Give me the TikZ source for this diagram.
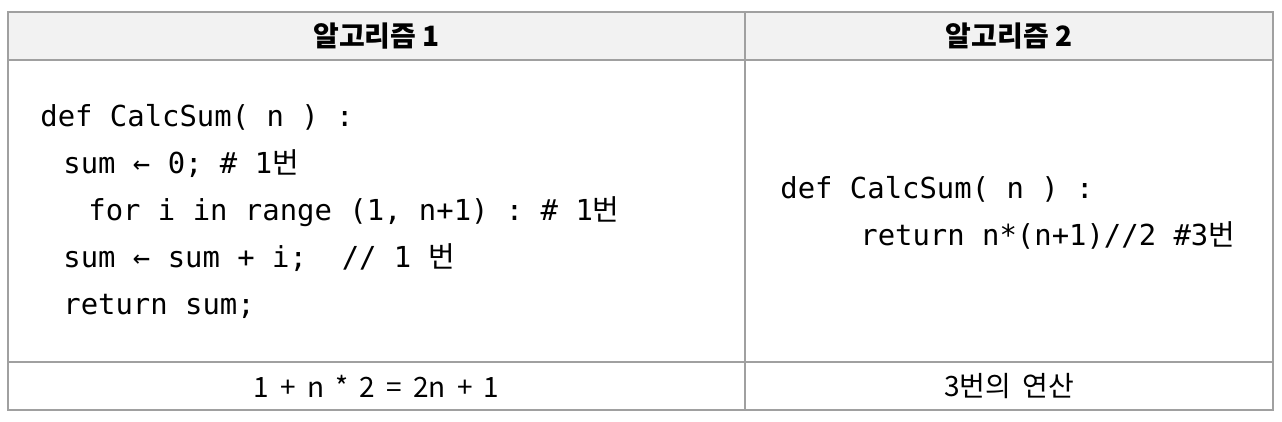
\documentclass[tikz,border=0pt]{standalone}
\usepackage{fontspec}
\setmainfont{Noto Sans CJK KR}
\setmonofont{DejaVu Sans Mono}
\newfontfamily\krfont{Noto Sans CJK KR}
\newcommand{\kr}[1]{{\krfont #1}}
\newcommand{\footfont}{\fontsize{14}{17}\selectfont\spaceskip=0.4em\relax}
\definecolor{gridgray}{HTML}{A0A0A0}
\definecolor{headfill}{HTML}{F2F2F2}

\begin{document}
\begin{tikzpicture}[x=0.5pt, y=-0.5pt,
    cell/.style={draw=gridgray, line width=1pt},
    head/.style={font=\bfseries\fontsize{14}{17}\selectfont, anchor=center},
    foot/.style={font=\footfont, anchor=center},
    code/.style={font=\ttfamily\fontsize{14.45}{17}\selectfont, anchor=base west, inner sep=0pt}]

    \useasboundingbox (0,0) rectangle (1282,422);

    % table
    \fill[headfill] (8,12) rectangle (1273,60);
    \draw[cell] (8,12) rectangle (1273,410);
    \draw[cell] (8,60) -- (1273,60);
    \draw[cell] (8,362) -- (1273,362);
    \draw[cell] (745,12) -- (745,410);

    % header
    \node[head] (h1) at (376.5,36) {알고리즘 1};
    \node[head] (h2) at (1009,36) {알고리즘 2};

    % algorithm 1
    \node[code] (a1) at (40,127) {def CalcSum( n ) :};
    \node[code] (a2) at (63,174) {sum ← 0; \# 1\kr{번}};
    \node[code] (a3) at (88,221) {for i in range (1, n+1) : \# 1\kr{번}};
    \node[code] (a4) at (63,268) {sum ← sum + i;\ \ // 1 \kr{번}};
    \node[code] (a5) at (63,315) {return sum;};

    % algorithm 2
    \node[code] (b1) at (780,199) {def CalcSum( n ) :};
    \node[code] (b2) at (860,246) {return n*(n+1)//2 \#3\kr{번}};

    % cost
    \node[foot] (f1) at (376.5,386) {1 + n * 2 = 2n + 1};
    \node[foot] (f2) at (1009,386) {3번의 연산};

\end{tikzpicture}
\end{document}
